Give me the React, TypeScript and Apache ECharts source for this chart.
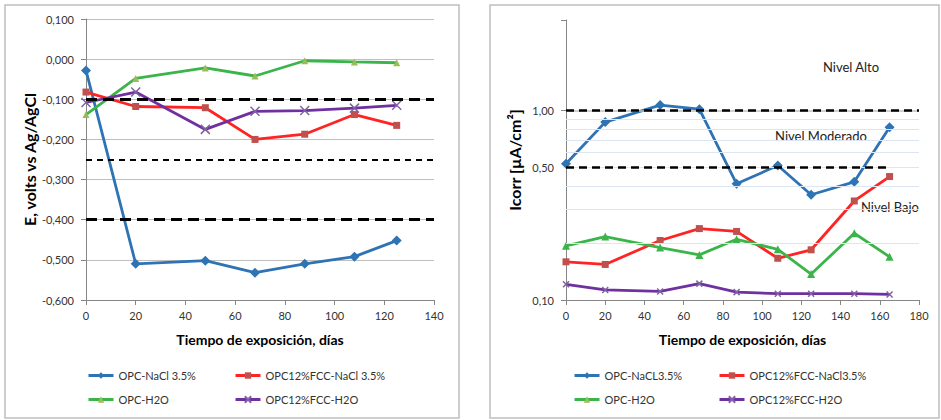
import React, { useEffect, useRef } from 'react';
import * as echarts from 'echarts';

// ---------- Left chart: potential vs time ----------
const leftDays = [0, 20, 48, 68, 88, 108, 125];
const leftOpcNaCl = [-0.028, -0.51, -0.502, -0.532, -0.51, -0.492, -0.452];
const leftFccNaCl = [-0.082, -0.118, -0.121, -0.2, -0.187, -0.138, -0.165];
const leftOpcH2O = [-0.138, -0.048, -0.022, -0.042, -0.004, -0.007, -0.009];
const leftFccH2O = [-0.108, -0.082, -0.175, -0.13, -0.128, -0.122, -0.115];
const leftThresholds = [-0.1, -0.25, -0.4];
const leftNames = ['OPC-NaCl 3.5%', 'OPC12%FCC-NaCl 3.5%', 'OPC-H2O', 'OPC12%FCC-H2O'];

// ---------- Right chart: Icorr vs time (log) ----------
const rightDays = [0, 20, 48, 68, 87, 108, 125, 147, 165];
const rightOpcNaCl = [0.523, 0.868, 1.067, 1.016, 0.41, 0.512, 0.359, 0.42, 0.816];
const rightFccNaCl = [0.159, 0.154, 0.206, 0.238, 0.23, 0.166, 0.184, 0.333, 0.448];
const rightOpcH2O = [0.193, 0.216, 0.189, 0.173, 0.209, 0.185, 0.137, 0.225, 0.169];
const rightFccH2O = [0.121, 0.113, 0.111, 0.122, 0.11, 0.108, 0.108, 0.108, 0.107];
const rightMinorGrid = [0.2, 0.3, 0.4, 0.5, 0.6, 0.7, 0.8, 0.9];
const rightMajorGrid = [1];
const rightLevelHigh = 1;
const rightLevelLow = 0.5;
const rightNames = ['OPC-NaCL3.5%', 'OPC12%FCC-NaCl3.5%', 'OPC-H2O', 'OPC12%FCC-H2O'];
const levelTexts = ['Nivel Alto', 'Nivel Moderado', 'Nivel Bajo'];

const FONT = 'Lato, "Noto Sans", sans-serif';
const AXIS_COLOR = '#868686';
const LABEL_COLOR = '#333333';
const X_PATH = 'path://M0,0L10,10M10,0L0,10';

const colors = {
  blue: '#2E74B5',
  red: '#FF2424',
  redMk: '#C0504D',
  green: '#3BB44A',
  greenMk: '#9BBB59',
  purple: '#7030A0',
  purpleMk: '#8064A2',
};

function mk(
  name: string,
  days: number[],
  vals: number[],
  color: string,
  mkColor: string,
  symbol: string,
  size: number,
  idx: number
) {
  const isX = symbol === X_PATH;
  return {
    type: 'line',
    name,
    xAxisIndex: idx,
    yAxisIndex: idx,
    data: days.map((d, i) => [d, vals[i]]),
    symbol,
    symbolSize: size,
    z: 3,
    lineStyle: { color, width: 2.8 },
    itemStyle: {
      color: mkColor,
      borderColor: mkColor,
      borderWidth: isX ? 1.5 : 0,
    },
  };
}

function legendItem(name: string, left: number, top: number) {
  return {
    left,
    top,
    padding: 0,
    itemWidth: 25,
    itemHeight: 8,
    itemGap: 0,
    selectedMode: false,
    data: [name],
    lineStyle: { width: 3 },
    textStyle: { fontSize: 11, color: LABEL_COLOR, fontFamily: FONT },
  };
}

function xAxisCfg(idx: number, max: number) {
  return {
    type: 'value',
    gridIndex: idx,
    min: 0,
    max,
    interval: 20,
    name: 'Tiempo de exposición, días',
    nameLocation: 'middle',
    nameGap: 32,
    nameTextStyle: { fontSize: 14, fontWeight: 'bold', color: '#000', fontFamily: FONT },
    axisLine: { show: true, onZero: false, lineStyle: { color: AXIS_COLOR, width: 1 } },
    axisTick: { show: true, inside: false, length: 5, lineStyle: { color: AXIS_COLOR } },
    axisLabel: { fontSize: 11, color: LABEL_COLOR, fontFamily: FONT, margin: 10 },
    splitLine: { show: false },
  };
}

const fmt3 = (v: number) => (Math.abs(v) < 1e-9 ? 0 : v).toFixed(3).replace('.', ',');

export default function App() {
  const ref = useRef<HTMLDivElement>(null);
  useEffect(() => {
    if (!ref.current) return;
    const chart = echarts.init(ref.current, undefined, { renderer: 'svg' });
    const option: any = {
      animation: false,
      backgroundColor: '#fff',
      grid: [
        { left: 86, top: 19, width: 348, height: 281 },
        { left: 566, top: 20, width: 353, height: 280 },
      ],
      xAxis: [xAxisCfg(0, 140), xAxisCfg(1, 180)],
      yAxis: [
        {
          type: 'value',
          gridIndex: 0,
          min: -0.6,
          max: 0.1,
          interval: 0.1,
          name: 'E, volts vs Ag/AgCl',
          nameLocation: 'middle',
          nameGap: 47,
          nameTextStyle: { fontSize: 16, fontWeight: 'bold', color: '#000', fontFamily: FONT },
          axisLine: { show: true, lineStyle: { color: AXIS_COLOR } },
          axisTick: { show: true, length: 5, lineStyle: { color: AXIS_COLOR } },
          axisLabel: { fontSize: 11, color: LABEL_COLOR, fontFamily: FONT, margin: 12, formatter: fmt3 },
          splitLine: { show: true, lineStyle: { color: '#BFBFBF', width: 1 } },
        },
        {
          type: 'log',
          logBase: 10,
          gridIndex: 1,
          min: 0.1,
          max: 3,
          name: 'Icorr [µA/cm²]',
          nameLocation: 'middle',
          nameGap: 44,
          nameTextStyle: { fontSize: 16, fontWeight: 'bold', color: '#000', fontFamily: FONT },
          axisLine: { show: true, lineStyle: { color: AXIS_COLOR } },
          axisTick: { show: true, length: 5, lineStyle: { color: AXIS_COLOR } },
          axisLabel: {
            fontSize: 11,
            color: LABEL_COLOR,
            fontFamily: FONT,
            margin: 12,
            formatter: (v: number) =>
              Math.abs(v - 0.1) < 1e-6 ? '0,10' : Math.abs(v - 1) < 1e-6 ? '1,00' : '',
          },
          splitLine: { show: false },
        },
      ],
      legend: [
        legendItem(leftNames[0], 87, 370),
        legendItem(leftNames[1], 234, 370),
        legendItem(leftNames[2], 87, 394),
        legendItem(leftNames[3], 234, 394),
        legendItem(rightNames[0], 573, 370),
        legendItem(rightNames[1], 718, 370),
        legendItem(rightNames[2], 573, 394),
        legendItem(rightNames[3], 718, 394),
      ],
      graphic: [
        { type: 'rect', shape: { x: 5, y: 5, width: 454, height: 413 }, style: { fill: 'none', stroke: '#BFBFBF', lineWidth: 1.5 }, z: 0 },
        { type: 'rect', shape: { x: 490, y: 5, width: 449, height: 413 }, style: { fill: 'none', stroke: '#BFBFBF', lineWidth: 1.5 }, z: 0 },
        { type: 'text', x: 851, y: 67, style: { text: levelTexts[0], fontSize: 13, fill: '#222', fontFamily: FONT, align: 'center', verticalAlign: 'middle' } },
        { type: 'text', x: 821, y: 136, style: { text: levelTexts[1], fontSize: 13, fill: '#222', fontFamily: FONT, align: 'center', verticalAlign: 'middle' } },
        { type: 'text', x: 890, y: 207, style: { text: levelTexts[2], fontSize: 13, fill: '#222', fontFamily: FONT, align: 'center', verticalAlign: 'middle' } },
      ],
      series: [
        {
          type: 'line',
          xAxisIndex: 0,
          yAxisIndex: 0,
          data: [],
          z: 2,
          markLine: {
            silent: true,
            symbol: ['none', 'none'],
            label: { show: false },
            data: leftThresholds.map((v, i) => ({
              yAxis: v,
              lineStyle: {
                color: '#000',
                type: i === 1 ? [6, 5] : [11, 6],
                width: i === 1 ? 2 : 3,
              },
            })),
          },
        },
        mk(leftNames[0], leftDays, leftOpcNaCl, colors.blue, colors.blue, 'diamond', 10, 0),
        mk(leftNames[1], leftDays, leftFccNaCl, colors.red, colors.redMk, 'rect', 7, 0),
        mk(leftNames[2], leftDays, leftOpcH2O, colors.green, colors.greenMk, 'triangle', 7, 0),
        mk(leftNames[3], leftDays, leftFccH2O, colors.purple, colors.purpleMk, X_PATH, 9, 0),
        {
          type: 'line',
          xAxisIndex: 1,
          yAxisIndex: 1,
          data: [],
          z: 2,
          markLine: {
            silent: true,
            symbol: ['none', 'none'],
            label: { show: false },
            data: [
              ...rightMinorGrid.map((v) => ({ yAxis: v, lineStyle: { color: '#DCE6F2', type: 'solid', width: 1 } })),
              ...rightMajorGrid.map((v) => ({ yAxis: v, lineStyle: { color: '#BFBFBF', type: 'solid', width: 1.5 } })),
              { yAxis: rightLevelHigh, lineStyle: { color: '#000', type: [8, 5], width: 2.5 } },
              [
                {
                  coord: [0, rightLevelLow],
                  lineStyle: { color: '#000', type: [8, 5], width: 2.5 },
                  label: {
                    show: true,
                    position: 'start',
                    distance: 12,
                    formatter: '0,50',
                    fontSize: 11,
                    color: LABEL_COLOR,
                    fontFamily: FONT,
                  },
                },
                { coord: [rightDays[rightDays.length - 1], rightLevelLow] },
              ],
            ],
          },
        },
        mk(rightNames[0], rightDays, rightOpcNaCl, colors.blue, colors.blue, 'diamond', 10, 1),
        mk(rightNames[1], rightDays, rightFccNaCl, colors.red, colors.redMk, 'rect', 7, 1),
        mk(rightNames[2], rightDays, rightOpcH2O, colors.green, colors.green, 'triangle', 8, 1),
        mk(rightNames[3], rightDays, rightFccH2O, colors.purple, colors.purpleMk, X_PATH, 6, 1),
      ],
    };
    chart.setOption(option);
    return () => chart.dispose();
  }, []);
  return (
    <div style={{ position: 'fixed', left: 0, top: 0, width: 941, height: 420, background: '#fff' }}>
      <div ref={ref} style={{ width: 941, height: 420 }} />
    </div>
  );
}
